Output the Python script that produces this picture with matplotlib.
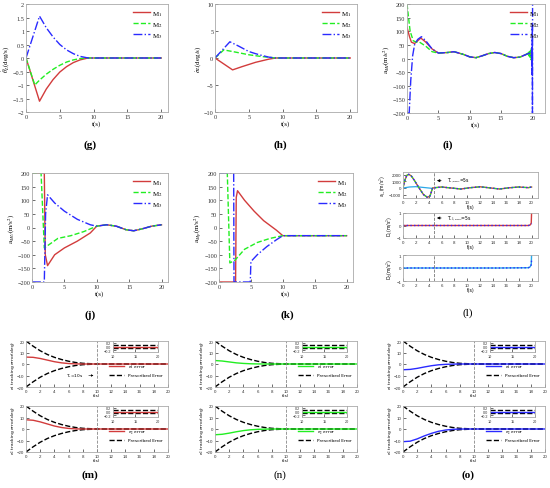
import matplotlib.pyplot as plt

plt.rcParams['mathtext.fontset'] = 'stix'

W, H = 550, 489
RED, GRN, BLU, CYN = '#d23c3c', '#22ee22', '#2a2aff', '#2aa8e8'

# ---- (g) theta_L dot
tg1 = [0, 2, 3, 4, 5, 6, 7, 8, 9, 9.3, 20]
g1 = [0, -1.6, -1.15, -0.8, -0.52, -0.32, -0.17, -0.07, -0.01, 0, 0]
tg2 = [0, 1.3, 2, 3, 4, 5, 6, 7, 8, 9, 20]
g2 = [0, -1.0, -0.82, -0.6, -0.42, -0.27, -0.15, -0.07, -0.02, 0, 0]
tg3 = [0, 2, 3, 4, 5, 6, 7, 8, 9, 9.3, 20]
g3 = [0, 1.55, 1.12, 0.78, 0.5, 0.3, 0.16, 0.06, 0.01, 0, 0]

# ---- (h) sigma_L dot
th1 = [0, 2.6, 4, 5, 6, 7, 8, 9, 20]
h1 = [0, -2.2, -1.6, -1.2, -0.8, -0.5, -0.2, 0, 0]
th2 = [0, 1.3, 3, 5, 7, 9, 20]
h2 = [0, 1.5, 1.1, 0.6, 0.25, 0, 0]
th3 = [0, 2.2, 3.5, 5, 6, 7, 8, 9, 20]
h3 = [0, 3.0, 2.2, 1.2, 0.8, 0.45, 0.15, 0, 0]

# ---- (i)
tail_t = [5, 6.5, 7.5, 9, 10, 11, 12, 13, 14, 15, 16, 17, 18, 19]
tail_v = [20, 22, 25, 15, 6, 3, 10, 18, 22, 18, 8, 3, 5, 15]
ti1 = [0, 0.4, 0.7, 1.2, 1.7, 2.2, 3, 4] + tail_t + [19.5, 19.7, 19.8, 19.9, 20]
i1 = [115, 80, 60, 55, 65, 75, 60, 35] + tail_v + [20, 10, 30, 5, 35]
ti2 = [0, 0.2, 0.5, 1, 1.5, 2, 3, 4] + tail_t + [19.3, 19.4, 19.5, 19.6, 19.7, 19.8, 19.85, 19.9, 19.95, 20]
i2 = [200, 160, 100, 65, 60, 60, 45, 25] + tail_v + [20, 10, 25, 5, 30, -5, 38, -10, 40, 0]
ti3 = [0, 0.35, 0.6, 0.9, 1.2, 1.7, 2.3, 3, 4] + tail_t + [19.6, 19.8, 19.9, 19.95, 19.98, 20.0, 20.02]
i3 = [-200, -200, -80, 10, 50, 70, 80, 65, 35] + tail_v + [20, 10, 40, -60, 120, -200, 200]

# ---- (j)
jt_tail = [10, 11.5, 13, 14.5, 15.7, 17, 18.5, 20]
jv_tail = [5, 10, 5, -8, -12, -5, 5, 10]
tj1 = [0, 1.9, 2.05, 2.4, 3.5, 5, 7, 9] + jt_tail
j1 = [200, 200, -100, -140, -100, -75, -50, -20] + jv_tail
tj2 = [0, 1.4, 1.9, 2.5, 4, 6, 8] + jt_tail
j2 = [200, 200, -75, -65, -40, -30, -15] + jv_tail
tj3 = [0, 1.9, 2.1, 2.4, 3.5, 5, 7, 9] + jt_tail
j3 = [-200, -200, 50, 120, 90, 60, 30, 10] + jv_tail

# ---- (k)
tk1 = [0, 2.6, 2.7, 2.9, 4, 5.5, 7, 9, 10, 20]
k1 = [-200, -200, 110, 135, 100, 60, 25, -10, -30, -30]
tk2 = [0, 1.3, 1.7, 2.5, 4, 6, 8, 10, 20]
k2 = [200, 200, -130, -120, -80, -55, -40, -30, -30]
tk3 = [0, 2.3, 2.35, 4.9, 5.0, 6, 7.5, 9, 10, 20]
k3 = [200, 200, -200, -200, -125, -100, -70, -45, -30, -30]

# ---- (l)
tl = [0, 0.3, 0.6, 0.9, 1.3, 1.8, 2.5, 3.2, 3.8, 4.2, 4.6, 5, 6, 7.5, 9, 10.5, 12, 13.5, 15, 16.5, 18, 19.5, 20]
la = [0, 1200, 1900, 2050, 1800, 1100, 0, -1000, -1400, -1200, 0, 50, 150, 0, -150, 50, 180, 20, -150, 30, 150, 50, 150]
tlc = [0, 1, 2, 3, 4, 4.6]
lc = [0, 150, 200, 100, 0, -60]
td = [0, 5, 10, 15, 19.5, 19.8, 19.95, 20]
d1 = [0, 0, 0, 0, 0, 0.05, 0.2, 1.0]
d1b = [0, 0, 0, 0, 0, 0.02, 0.1, 0.15]
d2 = [0, 0, 0, 0, 0.02, 0.1, 0.3, 1.0]
d2b = [0, 0, 0, 0, 0.02, 0.08, 0.25, 0.6]

# ---- (m)(n)(o)
tb = [0, 1, 2, 3, 4, 5, 6, 7, 8, 9, 10, 20]
bnd = [20, 15.5, 11.5, 8.3, 5.8, 3.9, 2.4, 1.3, 0.6, 0.3, 0.1, 0.1]
te = [0, 1, 2, 3, 4, 5, 6, 7, 8, 9, 20]
em1 = [6, 5.8, 4.8, 3.4, 2.0, 1.0, 0.4, 0.1, 0, 0, 0]
em2 = [8, 7.6, 6.2, 4.4, 2.6, 1.3, 0.5, 0.1, 0, 0, 0]
en1 = [3, 2.6, 1.8, 1.0, 0.5, 0.2, 0.05, 0, 0, 0, 0]
en2 = [-5, -4.6, -3.6, -2.4, -1.4, -0.7, -0.3, -0.1, 0, 0, 0]
eo1 = [-5, -4.7, -3.8, -2.6, -1.5, -0.7, -0.3, -0.1, 0, 0, 0]
eo2 = [-11, -10.6, -8.6, -6.0, -3.8, -2.0, -0.9, -0.3, -0.05, 0, 0]

fig = plt.figure(figsize=(5.5, 4.89), dpi=100)


def ax_px(l, t, r, b):
    return fig.add_axes([l / W, 1 - b / H, (r - l) / W, (b - t) / H])


def style(ax, fs, serif=True):
    for s in ax.spines.values():
        s.set_color('#aaaaaa')
        s.set_linewidth(0.6)
    ax.tick_params(direction='in', labelsize=fs, length=2, width=0.5,
                   colors='#333333', pad=1.2)
    fam = 'Liberation Serif' if serif else 'Liberation Sans'
    for lab in ax.get_xticklabels() + ax.get_yticklabels():
        lab.set_family(fam)


def top_panel(ax, data, ylim, yticks, ylabel, xlim=21):
    (t1, y1), (t2, y2), (t3, y3) = data
    ax.plot(t1, y1, color=RED, lw=1.0, label='M$_1$')
    ax.plot(t2, y2, color=GRN, lw=1.0, ls='--', label='M$_2$')
    ax.plot(t3, y3, color=BLU, lw=1.0, ls='-.', label='M$_3$')
    ax.set_xlim(0, xlim)
    ax.set_ylim(*ylim)
    ax.set_xticks([0, 5, 10, 15, 20])
    ax.set_yticks(yticks)
    ax.set_xlabel('t(s)', fontsize=5, family='Liberation Serif', labelpad=1)
    ax.set_ylabel(ylabel, fontsize=5, family='Liberation Serif', labelpad=0.5)
    style(ax, 4.5)
    ax.legend(loc='upper right', frameon=False, handlelength=2.4,
              labelspacing=0.3, borderaxespad=0.3, handletextpad=0.4,
              prop={'family': 'Liberation Serif', 'size': 5})


ax = ax_px(26, 5, 168, 113)
top_panel(ax, [(tg1, g1), (tg2, g2), (tg3, g3)], (-2, 2),
          [-2, -1.5, -1, -0.5, 0, 0.5, 1, 1.5, 2], r'$\dot{\theta}_L$(deg/s)')
ax.set_yticklabels(['−2', '−1.5', '−1', '−0.5', '0', '0.5', '1', '1.5', '2'],
                   family='Liberation Serif')
ax = ax_px(215, 5, 357, 113)
top_panel(ax, [(th1, h1), (th2, h2), (th3, h3)], (-10, 10),
          [-10, -5, 0, 5, 10], r'$\dot{\sigma}_L$(deg/s)')
ax = ax_px(407, 5, 545, 114)
top_panel(ax, [(ti1, i1), (ti2, i2), (ti3, i3)], (-200, 200),
          [-200, -150, -100, -50, 0, 50, 100, 150, 200], r'a$_{MI}$(m/s$^2$)', xlim=22)
ax = ax_px(32, 174, 168, 283)
top_panel(ax, [(tj1, j1), (tj2, j2), (tj3, j3)], (-200, 200),
          [-200, -150, -100, -50, 0, 50, 100, 150, 200], r'a$_{MU}$(m/s$^2$)')
ax = ax_px(219, 174, 353, 283)
top_panel(ax, [(tk1, k1), (tk2, k2), (tk3, k3)], (-200, 200),
          [-200, -150, -100, -50, 0, 50, 100, 150, 200], r'a$_{Mp}$(m/s$^2$)')


# ---- (l)
def l_panel(ax, ylim, yticks, ylabel):
    ax.axvline(4.8, color='#777777', ls='--', lw=0.6)
    ax.set_xlim(0, 21)
    ax.set_ylim(*ylim)
    ax.set_xticks(range(0, 21, 2))
    ax.set_yticks(yticks)
    ax.set_xlabel('t(s)', fontsize=3.3, labelpad=0.5)
    ax.set_ylabel(ylabel, fontsize=3.3, labelpad=0.5)
    style(ax, 3.2, serif=False)


ax = ax_px(403, 173, 538, 199)
ax.plot(tlc, lc, color=CYN, lw=0.9)
ax.plot(tl, la, color=RED, lw=1.0)
ax.plot(tl, la, color=GRN, lw=0.8, ls='--')
ax.plot(tl, la, color=BLU, lw=1.0, ls=':')
l_panel(ax, (-1500, 2400), [-1000, 0, 1000, 2000], r'a$_{Ts}$(m/s$^2$)')
ax.annotate(r'T$_{s,ERO}$=5s', xy=(4.85, 1100), xytext=(6.8, 1100), fontsize=3.3,
            va='center', arrowprops=dict(arrowstyle='-|>', lw=0.5, color='k',
                                         mutation_scale=4))

ax = ax_px(403, 214, 538, 239)
ax.plot(td, d1, color=RED, lw=1.0)
ax.plot(td, d1b, color=BLU, lw=1.0, ls=':')
l_panel(ax, (-1, 1), [-1, 0, 1], r'D$_1$(m/s$^2$)')
ax.annotate(r'T$_{r1,ERO}$=5s', xy=(4.85, 0.6), xytext=(6.8, 0.6), fontsize=3.3,
            va='center', arrowprops=dict(arrowstyle='-|>', lw=0.5, color='k',
                                         mutation_scale=4))

ax = ax_px(403, 256, 538, 282)
ax.plot(td, d2, color=CYN, lw=1.0)
ax.plot(td, d2b, color=BLU, lw=1.0, ls=':')
l_panel(ax, (-1, 1), [-1, 0, 1], r'D$_2$(m/s$^2$)')


# ---- (m)(n)(o)
def err_panel(l, t, r, b, err, color, name, note=False):
    ax = ax_px(l, t, r, b)
    ax.plot(tb, bnd, color='k', ls='--', lw=1.0)
    ax.plot(tb, [-v for v in bnd], color='k', ls='--', lw=1.0, label='Prescribed Error')
    ax.plot(te, err, color=color, lw=1.0, label=name + ' error')
    ax.axvline(10, color='#888888', ls='--', lw=0.6)
    ax.set_xlim(0, 20)
    ax.set_ylim(-20, 20)
    ax.set_xticks(range(0, 21, 2))
    ax.set_yticks([-20, -10, 0, 10, 20])
    ax.set_xlabel('t(s)', fontsize=3.2, labelpad=0.3)
    ax.set_ylabel(name + ' tracking error(deg)', fontsize=3.2, labelpad=0.3)
    style(ax, 3.2, serif=False)
    h, lb = ax.get_legend_handles_labels()
    ax.legend(h[::-1], lb[::-1], loc='lower right', bbox_to_anchor=(0.99, 0.12),
              fontsize=3.2, frameon=False, handlelength=3.5, labelspacing=0.6)
    if note:
        ax.annotate(r'T$_s$=10s', xy=(9.9, -10), xytext=(5.6, -10), fontsize=3.2,
                    va='center', arrowprops=dict(arrowstyle='-|>', lw=0.4,
                                                 color='k', mutation_scale=3))
    ins = ax.inset_axes([0.61, 0.76, 0.32, 0.24])
    ins.plot([10, 20], [0.1, 0.1], color='k', ls='--', lw=1.0)
    ins.plot([10, 20], [-0.1, -0.1], color='k', ls='--', lw=1.0)
    ins.plot([10, 20], [0, 0], color=color, lw=1.0)
    ins.set_xlim(10, 20)
    ins.set_ylim(-0.3, 0.3)
    ins.set_xticks([10, 15, 20])
    ins.set_yticks([-0.2, 0, 0.2])
    style(ins, 2.7, serif=False)


err_panel(26, 342, 168, 388, em1, RED, r'e$_1$', note=True)
err_panel(26, 407, 168, 453, em2, RED, r'e$_2$')
err_panel(215, 342, 357, 388, en1, GRN, r'e$_1$')
err_panel(215, 407, 357, 453, en2, GRN, r'e$_2$')
err_panel(403, 342, 545, 388, eo1, BLU, r'e$_1$')
err_panel(403, 407, 545, 453, eo2, BLU, r'e$_2$')

# ---- panel labels
for x, y, s, w in [(90, 145, '(g)', 'bold'), (280, 145, '(h)', 'bold'),
                   (448, 145, '(i)', 'bold'), (90, 315, '(j)', 'bold'),
                   (287, 315, '(k)', 'bold'), (468, 313, '(l)', 'normal'),
                   (90, 475, '(m)', 'bold'), (280, 475, '(n)', 'normal'),
                   (468, 475, '(o)', 'bold')]:
    fig.text(x / W, 1 - y / H, s, ha='center', va='center', fontsize=8,
             family='Liberation Serif', weight=w)

fig.savefig('out.png', dpi=100)
